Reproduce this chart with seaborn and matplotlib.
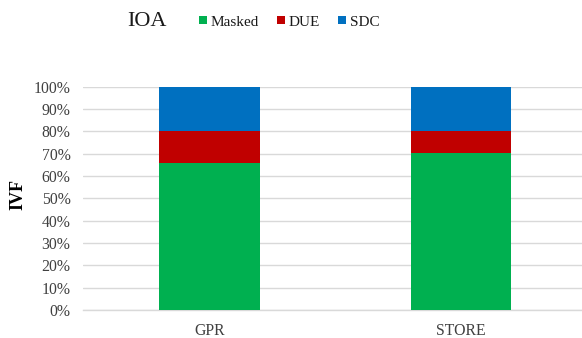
import matplotlib
matplotlib.use("Agg")
import matplotlib.pyplot as plt
import seaborn as sns
import pandas as pd
import numpy as np
from matplotlib.patches import Patch

categories = ["GPR", "STORE"]
masked = [66.0, 70.5]
due = [14.0, 9.5]
sdc = [20.0, 20.0]
series_names = ["Masked", "DUE", "SDC"]
colors = {"Masked": "#00B050", "DUE": "#C00000", "SDC": "#0070C0"}
yticks = [0, 10, 20, 30, 40, 50, 60, 70, 80, 90, 100]
ytick_labels = [f"{v}%" for v in yticks]

sns.set_style("white")
plt.rcParams["font.family"] = ["Liberation Serif", "DejaVu Serif"]

df = pd.DataFrame({"cat": categories, "Masked": masked, "DUE": due, "SDC": sdc})
df["top_due"] = df["Masked"] + df["DUE"]
df["top_sdc"] = df["top_due"] + df["SDC"]

W, H = 582, 338
fig = plt.figure(figsize=(W / 100, H / 100), dpi=100)
ax = fig.add_axes([83 / W, (H - 310) / H, (582 - 83) / W, (310 - 86.7) / H])

for col, name in [("top_sdc", "SDC"), ("top_due", "DUE"), ("Masked", "Masked")]:
    sns.barplot(data=df, x="cat", y=col, color=colors[name], width=0.4,
                saturation=1, ax=ax, zorder=3, edgecolor="none", linewidth=0)

ax.set_ylim(0, 100)
ax.set_xlim(-0.503, 1.481)
ax.set_yticks(yticks)
ax.set_yticklabels(ytick_labels)
ax.yaxis.grid(True, color="#D9D9D9", linewidth=1.0, zorder=0)
ax.set_axisbelow(True)
for s in ["left", "right", "top"]:
    ax.spines[s].set_visible(False)
ax.spines["bottom"].set_color("#D9D9D9")
ax.spines["bottom"].set_linewidth(1.0)
ax.tick_params(axis="both", length=0, labelsize=11.3, colors="#404040")
ax.tick_params(axis="y", pad=9)
ax.tick_params(axis="x", pad=9.5)
ax.set_xlabel("")
ax.set_ylabel("")

fig.text(18 / W, 1 - 195 / H, "IVF", rotation=90, ha="center", va="center",
         fontsize=13, fontweight="bold", color="#000000")
fig.text(147 / W, 1 - 22 / H, "IOA", ha="center", va="center", fontsize=16,
         color="#1a1a1a")

handles = [Patch(facecolor=colors[n], edgecolor="none") for n in series_names]
fig.legend(handles, series_names, ncol=3, loc="center left",
           bbox_to_anchor=(199 / W, 1 - 22 / H), frameon=False,
           handlelength=0.5, handleheight=0.5, handletextpad=0.25,
           columnspacing=1.2, fontsize=11, borderaxespad=0, borderpad=0,
           labelcolor="#1a1a1a")

fig.savefig("out.png", dpi=100)
